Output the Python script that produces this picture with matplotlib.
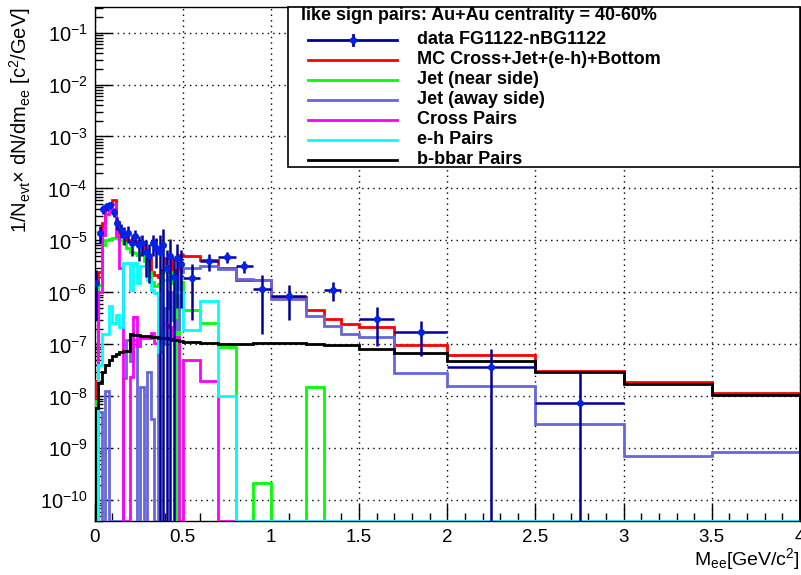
import numpy as np
import matplotlib.pyplot as plt
from matplotlib import font_manager
from matplotlib.lines import Line2D
from matplotlib.patches import Rectangle
from matplotlib.ticker import LogLocator, MultipleLocator, NullFormatter

# bin edges: 0.02 GeV bins up to 0.5, wider bins above
low_edges = np.linspace(0.0, 0.5, 26)
high_edges = [0.6, 0.7, 0.8, 0.9, 1.0, 1.2, 1.3, 1.4, 1.5, 1.7, 2.0, 2.5, 3.0, 3.5, 4.0]

# MC sum (red)
mc_low = [2e-8, 2.5e-6, 2.2e-5, 4.2e-5, 4.9e-5, 6.1e-5, 2.3e-5, 1.4e-5, 1.4e-5, 1.03e-5,
          9.6e-6, 9.6e-6, 8.3e-6, 9.0e-6, 6.6e-6, 4.3e-6, 2.5e-6, 2.2e-6, 2.0e-6, 2.7e-6,
          4.6e-6, 4.6e-6, 2.7e-6, 1.5e-6, 5.3e-6]
mc_high = [5.0e-6, 4.25e-6, 3.0e-6, 1.75e-6, 1.7e-6, 8.3e-7, 4.65e-7, 3.1e-7, 2.5e-7, 2.2e-7,
           9.6e-8, 6.3e-8, 3.1e-8, 1.9e-8, 1.16e-8]

# jet near side (green)
near_low = [8e-9, 1.4e-6, 8e-6, 1.0e-5, 1.05e-5, 1.1e-5, 1.1e-5, 1.0e-5, 9e-6, 7.1e-6,
            6.1e-6, 5.8e-6, 5.3e-6, 5.7e-6, 3.95e-6, 2.5e-6, 1.6e-6, 1.3e-6, 1.45e-6, 2.5e-6,
            3.2e-6, 2.5e-6, 1.5e-6, 0, 1.6e-6]
near_high = [4.5e-7, 2.57e-7, 8.8e-8, 0, 2.2e-10, 0, 1.5e-8, 0, 0, 0, 0, 0, 0, 0, 0]

# jet away side (light blue)
away_low = [0, 5e-9, 0, 1.25e-8, 0, 0, 0, 0, 2.3e-8, 1.2e-7,
            4.7e-8, 1.2e-7, 0, 1.5e-8, 0, 3e-8, 3.6e-9, 0, 3e-7, 1e-7,
            5e-7, 1e-6, 3e-7, 2e-7, 2.5e-6]
away_high = [3.0e-6, 3.16e-6, 2.86e-6, 1.83e-6, 1.75e-6, 7.5e-7, 3.45e-7, 2.29e-7, 1.58e-7, 1.39e-7,
             2.82e-8, 1.58e-8, 2.98e-9, 7.2e-10, 8.6e-10]

# cross pairs (magenta)
cross_low = [0, 1e-6, 1.3e-5, 3.2e-5, 4.0e-5, 5.0e-5, 1.2e-5, 3e-6, 0, 0,
             2.4e-8, 3.4e-7, 9.2e-8, 1.3e-7, 1.3e-7, 1.3e-7, 1.65e-7, 1.06e-7, 1.06e-7, 2.6e-7,
             2.4e-7, 2.2e-7, 1.4e-7, 1.4e-7, 0]
cross_high = [5e-8, 2e-8, 0, 0, 0, 0, 0, 0, 0, 0, 0, 0, 0, 0, 0]

# e-h pairs (cyan)
eh_low = [0, 4e-8, 1.6e-7, 1.6e-7, 5.4e-7, 2.6e-7, 3.7e-7, 2.2e-7, 3.7e-6, 3.7e-6,
          1.1e-6, 3.7e-6, 1.5e-6, 3.2e-6, 3.2e-6, 1.75e-6, 1.1e-6, 9.7e-7, 7e-8, 1.75e-6,
          1.75e-6, 2e-6, 2e-6, 1e-6, 1e-6]
eh_high = [1.9e-7, 6.7e-7, 1e-8, 0, 0, 0, 0, 0, 0, 0, 0, 0, 0, 0, 0]

# b-bbar (black)
bb_low = [6e-9, 1.8e-8, 3e-8, 4.1e-8, 5.1e-8, 5.9e-8, 6.6e-8, 7e-8, 7.3e-8, 7.5e-8,
          1.55e-7, 1.52e-7, 1.5e-7, 1.48e-7, 1.46e-7, 1.44e-7, 1.4e-7, 1.38e-7, 1.35e-7, 1.33e-7,
          1.3e-7, 1.27e-7, 1.24e-7, 1.2e-7, 1.17e-7]
bb_high = [1.1e-7, 1.08e-7, 1.03e-7, 1.03e-7, 1.06e-7, 1.05e-7, 1.0e-7, 9.8e-8, 9.6e-8, 8.3e-8,
           6.8e-8, 4.7e-8, 2.9e-8, 1.76e-8, 1.06e-8]

# data FG-BG (nan = no point)
nan = np.nan
data_low = [1.5e-6, 1.4e-5, 4.0e-5, 4.5e-5, 4.8e-5, 3.5e-5, 2.2e-5, 1.6e-5, 1.3e-5, 1.4e-5,
            9e-6, 1.2e-5, 8e-6, 9e-6, 6e-6, 5e-6, 9e-6, 7e-6, 6e-6, 8e-6,
            3e-6, 5e-6, 2e-6, 4.5e-6, 3.5e-6]
data_low_err = [1.2e-6, 5e-6, 8e-6, 8e-6, 8e-6, 7e-6, 6e-6, 5e-6, 5e-6, 5e-6,
                4e-6, 4e-6, 4e-6, 4e-6, 4e-6, 3.5e-6, 4e-6, 4e-6, 6.5e-6, 8.5e-6,
                3.5e-6, 5.5e-6, 2.5e-6, 4e-6, 3e-6]
data_high = [1.89e-6, 4.07e-6, 4.8e-6, 3.26e-6, 1.16e-6, 8.4e-7, nan, 1.13e-6, nan, 3.12e-7,
             1.70e-7, 3.67e-8, 7.46e-9, nan, nan]
data_high_err = [1.6e-6, 1.5e-6, 1.1e-6, 0.85e-6, 1.0e-6, 5.4e-7, nan, 4.4e-7, nan, 2.2e-7,
                 1.1e-7, 4.5e-8, 2.07e-8, nan, nan]

labels = ["data FG1122-nBG1122", "MC Cross+Jet+(e-h)+Bottom", "Jet (near side)",
          "Jet (away side)", "Cross Pairs", "e-h Pairs", "b-bbar Pairs"]
header = "like sign pairs: Au+Au centrality = 40-60%"

YMIN, YMAX = 4.0e-11, 0.31
W, H = 801, 575


def main():
    names = {f.name for f in font_manager.fontManager.ttflist}
    base = "Liberation Sans" if "Liberation Sans" in names else "DejaVu Sans"
    plt.rcParams["font.family"] = [base, "DejaVu Sans"]
    plt.rcParams["mathtext.fontset"] = "custom"
    plt.rcParams["mathtext.rm"] = base
    plt.rcParams["mathtext.it"] = base
    plt.rcParams["mathtext.default"] = "regular"

    edges = np.r_[low_edges, high_edges]
    centers = 0.5 * (edges[1:] + edges[:-1])
    halfw = 0.5 * np.diff(edges)

    fig = plt.figure(figsize=(W / 100, H / 100), dpi=100)
    ax = fig.add_axes([94.5 / W, 1 - 521 / H, (800 - 94.5) / W, (521 - 7) / H])
    ax.set_yscale("log")

    series = [
        (np.r_[mc_low, mc_high], "#ff0000"),
        (np.r_[near_low, near_high], "#00ff00"),
        (np.r_[away_low, away_high], "#6666dd"),
        (np.r_[cross_low, cross_high], "#ff00ff"),
        (np.r_[eh_low, eh_high], "#00ffff"),
        (np.r_[bb_low, bb_high], "#000000"),
    ]
    for i, (vals, col) in enumerate(series):
        v = np.maximum(np.asarray(vals, float), YMIN)
        ax.stairs(v, edges, baseline=YMIN, color=col, lw=2.0, zorder=3 + i * 0.1)

    dy = np.r_[data_low, data_high]
    de = np.r_[data_low_err, data_high_err]
    ok = ~np.isnan(dy)
    ax.errorbar(centers[ok], dy[ok], yerr=de[ok], xerr=halfw[ok], fmt="o",
                color="#000099", mfc="#0022ee", mec="#0022ee", ms=4, lw=1.8,
                capsize=0, zorder=4)

    ax.set_xlim(0, 4)
    ax.set_ylim(YMIN, YMAX)
    ax.xaxis.set_major_locator(MultipleLocator(0.5))
    ax.xaxis.set_minor_locator(MultipleLocator(0.1))
    ax.xaxis.set_major_formatter(plt.FuncFormatter(lambda x, p: f"{x:g}"))
    ax.yaxis.set_major_locator(LogLocator(base=10, numticks=20))
    ax.yaxis.set_minor_locator(LogLocator(base=10, subs=np.arange(2, 10), numticks=20))
    ax.yaxis.set_minor_formatter(NullFormatter())
    ax.tick_params(which="both", direction="in", top=False, right=False)
    ax.tick_params(axis="x", labelsize=13.5, pad=6)
    ax.tick_params(axis="y", labelsize=14.5, pad=5)
    ax.tick_params(which="major", length=12, width=1)
    ax.tick_params(which="minor", length=6, width=1)
    ax.grid(True, which="major", color="black", ls=(0, (1, 3)), lw=1)
    for s in ax.spines.values():
        s.set_linewidth(1)

    fig.text(20 / W, 1 - 7 / H, r"1/N$_{evt}$$\times$ dN/dm$_{ee}$ [c$^{2}$/GeV]",
             rotation=90, ha="center", va="top", fontsize=14.5)
    fig.text(800 / W, 1 - 559 / H, r"M$_{ee}$[GeV/c$^{2}$]", ha="right", va="center",
             fontsize=14)

    # legend box drawn by hand in pixel coords
    def fx(x):
        return x / W

    def fy(y):
        return 1 - y / H

    box = Rectangle((fx(288), fy(167)), fx(800) - fx(288), fy(7) - fy(167),
                    transform=fig.transFigure, facecolor="white", edgecolor="black",
                    lw=1.2, zorder=5)
    fig.add_artist(box)
    fig.text(fx(479), fy(16), header, ha="center", va="center", fontsize=12.9,
             fontweight="bold", zorder=6)
    colors = ["#000099", "#ff0000", "#00ff00", "#6666dd", "#ff00ff", "#00ffff", "#000000"]
    for i, (lab, col) in enumerate(zip(labels, colors)):
        y = 39.5 + 20 * i
        fig.add_artist(Line2D([fx(308), fx(397)], [fy(y), fy(y)], color=col, lw=2,
                              transform=fig.transFigure, zorder=6))
        if i == 0:
            fig.add_artist(Line2D([fx(352.5)] * 2, [fy(y - 5), fy(y + 5)], color=col, lw=2,
                                  transform=fig.transFigure, zorder=6))
            fig.add_artist(Line2D([fx(352.5)], [fy(y)], marker="o", ms=4, color="#0022ee",
                                  transform=fig.transFigure, zorder=7))
        fig.text(fx(417), fy(y), lab, ha="left", va="center", fontsize=13,
                 fontweight="bold", zorder=6)

    fig.savefig("out.png", dpi=100)


if __name__ == "__main__":
    main()
